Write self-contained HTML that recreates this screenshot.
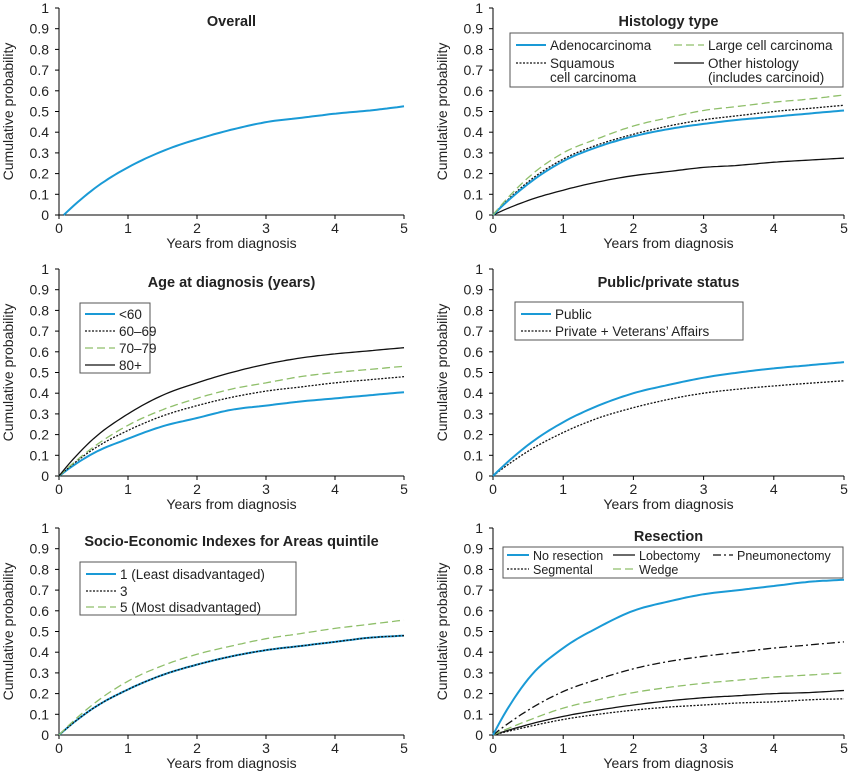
<!DOCTYPE html><html><head><style>body{margin:0;background:#fff}svg{display:block}text{font-family:"Liberation Sans",sans-serif;fill:#222}</style></head><body>
<svg id="s" width="850" height="777" xmlns="http://www.w3.org/2000/svg"></svg>
<script>
const S=document.getElementById('s');let h='';
const B='#1a9ad6',G='#8fbf6a',K='#111';
const panels=[
{x0:59,x1:404,y0:215,t:'Overall',s:[[B,'',[0,0.14,0.24,0.315,0.37,0.415,0.45,0.47,0.49,0.505,0.525],0.07]]},
{x0:493,x1:844,y0:215,t:'Histology type',s:[
[K,'',[0,0.07,0.12,0.16,0.19,0.21,0.23,0.24,0.255,0.265,0.275]],
[K,'2,1.5',[0,0.16,0.27,0.34,0.39,0.43,0.46,0.48,0.5,0.515,0.53]],
[B,'',[0,0.15,0.26,0.33,0.38,0.415,0.44,0.46,0.475,0.49,0.505]],
[G,'8,4',[0,0.18,0.30,0.37,0.43,0.47,0.505,0.525,0.545,0.56,0.58]]]},
{x0:59,x1:404,y0:476,t:'Age at diagnosis (years)',s:[
[B,'',[0,0.11,0.18,0.24,0.28,0.32,0.34,0.36,0.375,0.39,0.405]],
[K,'2,1.5',[0,0.13,0.22,0.29,0.34,0.38,0.41,0.43,0.45,0.465,0.48]],
[G,'8,4',[0,0.14,0.245,0.32,0.375,0.42,0.45,0.48,0.5,0.515,0.53]],
[K,'',[0,0.18,0.3,0.39,0.45,0.5,0.54,0.57,0.59,0.605,0.62]]]},
{x0:493,x1:844,y0:476,t:'Public/private status',s:[
[K,'2,1.5',[0,0.12,0.21,0.28,0.33,0.37,0.4,0.42,0.435,0.448,0.46]],
[B,'',[0,0.15,0.26,0.34,0.4,0.44,0.475,0.5,0.52,0.535,0.55]]]},
{x0:59,x1:404,y0:735,t:'Socio-Economic Indexes for Areas quintile',s:[
[B,'',[0,0.13,0.22,0.29,0.34,0.38,0.41,0.43,0.45,0.47,0.48]],
[K,'2,1.5',[0,0.13,0.22,0.29,0.34,0.38,0.41,0.43,0.45,0.47,0.48]],
[G,'8,4',[0,0.15,0.26,0.335,0.39,0.43,0.465,0.49,0.515,0.535,0.555]]]},
{x0:493,x1:844,y0:735,t:'Resection',ty:541,s:[
[K,'2,1.5',[0,0.04,0.075,0.1,0.12,0.135,0.145,0.155,0.16,0.17,0.175]],
[K,'',[0,0.05,0.09,0.12,0.145,0.165,0.18,0.19,0.2,0.205,0.215]],
[G,'8,4',[0,0.07,0.13,0.17,0.205,0.23,0.25,0.265,0.28,0.29,0.30]],
[K,'8,3,2,3',[0,0.12,0.21,0.27,0.32,0.355,0.38,0.40,0.42,0.435,0.45]],
[B,'',[0,0.27,0.42,0.52,0.6,0.645,0.68,0.7,0.72,0.74,0.75]]]}];
function interp(v){const n=v.length-1,d=[];for(let i=0;i<n;i++)d.push(v[i+1]-v[i]);
 const m=[];m[0]=Math.max(1.5*d[0]-0.5*d[1],d[0]);for(let i=1;i<n;i++)m[i]=(d[i-1]+d[i])/2;m[n]=d[n-1];
 return f=>{const k=Math.min(Math.floor(f),n-1),r=f-k,r2=r*r,r3=r2*r;
  return (2*r3-3*r2+1)*v[k]+(r3-2*r2+r)*m[k]+(-2*r3+3*r2)*v[k+1]+(r3-r2)*m[k+1];};}
for(const p of panels){
 const H=207,W=p.x1-p.x0;const X=t=>p.x0+t/5*W,Y=v=>p.y0-v*H;
 h+=`<line x1="${p.x0}" y1="${p.y0-H}" x2="${p.x0}" y2="${p.y0}" stroke="#000"/><line x1="${p.x0}" y1="${p.y0}" x2="${p.x1}" y2="${p.y0}" stroke="#000"/>`;
 for(let i=0;i<=10;i++){const y=Y(i/10);h+=`<line x1="${p.x0-4}" x2="${p.x0}" y1="${y}" y2="${y}" stroke="#000"/><text x="${p.x0-10}" y="${y+5}" font-size="14" text-anchor="end">${i==0?0:i==10?1:(i/10).toFixed(1)}</text>`;}
 for(let i=0;i<=5;i++){const x=X(i);h+=`<line x1="${x}" x2="${x}" y1="${p.y0}" y2="${p.y0+4}" stroke="#000"/><text x="${x}" y="${p.y0+18}" font-size="14" text-anchor="middle">${i}</text>`;}
 h+=`<text x="${p.x0+W/2}" y="${p.y0+33}" font-size="14" text-anchor="middle">Years from diagnosis</text>`;
 h+=`<text transform="translate(${p.x0-46},${p.y0-H/2}) rotate(-90)" font-size="14" text-anchor="middle">Cumulative probability</text>`;
 h+=`<text x="${p.x0+W/2}" y="${p.ty||p.y0-H+18}" font-size="14.5" font-weight="bold" text-anchor="middle">${p.t}</text>`;
 for(const [c,d,v,st] of p.s){let pts=[];const n=v.length-1;const F=interp(v);
  for(let j=0;j<=100;j++){const t=j/100*5;let val=F(t/5*n);
   let tt=st?st+t*(5-st)/5:t;pts.push(X(tt).toFixed(1)+','+Y(val).toFixed(1));}
  h+=`<polyline points="${pts.join(' ')}" fill="none" stroke="${c}" stroke-width="${c==B?2:1.3}" ${d?`stroke-dasharray="${d}"`:''}/>`;}
}
function lg(x,y,c,d,t,L,fs){L=L||30;fs=fs||13.5;return `<line x1="${x}" x2="${x+L}" y1="${y}" y2="${y}" stroke="${c}" stroke-width="${c==B?2:1.3}" ${d?`stroke-dasharray="${d}"`:''}/><text x="${x+L+4}" y="${y+5}" font-size="${fs}">${t}</text>`;}
h+=`<rect x="510" y="33" width="333" height="54" fill="none" stroke="#555"/>`;
h+=lg(516,45,B,'','Adenocarcinoma')+lg(674,45,G,'8,4','Large cell carcinoma')+lg(516,63,K,'2,1.5','Squamous')+`<text x="550" y="82" font-size="13.5">cell carcinoma</text>`+lg(674,63,K,'','Other histology')+`<text x="708" y="82" font-size="13.5">(includes carcinoid)</text>`;
h+=`<rect x="80" y="303" width="70" height="70" fill="none" stroke="#555"/>`;
h+=lg(85,314,B,'','&lt;60')+lg(85,331,K,'2,1.5','60–69')+lg(85,348,G,'8,4','70–79')+lg(85,365,K,'','80+');
h+=`<rect x="515" y="302" width="228" height="38" fill="none" stroke="#555"/>`;
h+=lg(521,314,B,'','Public')+lg(521,331,K,'2,1.5','Private + Veterans’ Affairs');
h+=`<rect x="80" y="562" width="216" height="53" fill="none" stroke="#555"/>`;
h+=lg(86,574,B,'','1 (Least disadvantaged)')+lg(86,591,K,'2,1.5','3')+lg(86,607,G,'8,4','5 (Most disadvantaged)');
h+=`<rect x="503" y="547" width="340" height="31" fill="none" stroke="#555"/>`;
h+=lg(507,555,B,'','No resection',22,12.5)+lg(613,555,K,'','Lobectomy',22,12.5)+lg(713,555,K,'8,3,2,3','Pneumonectomy',20,12.5)+lg(507,569,K,'2,1.5','Segmental',22,12.5)+lg(613,569,G,'8,4','Wedge',22,12.5);
S.innerHTML=h;
</script></body></html>
